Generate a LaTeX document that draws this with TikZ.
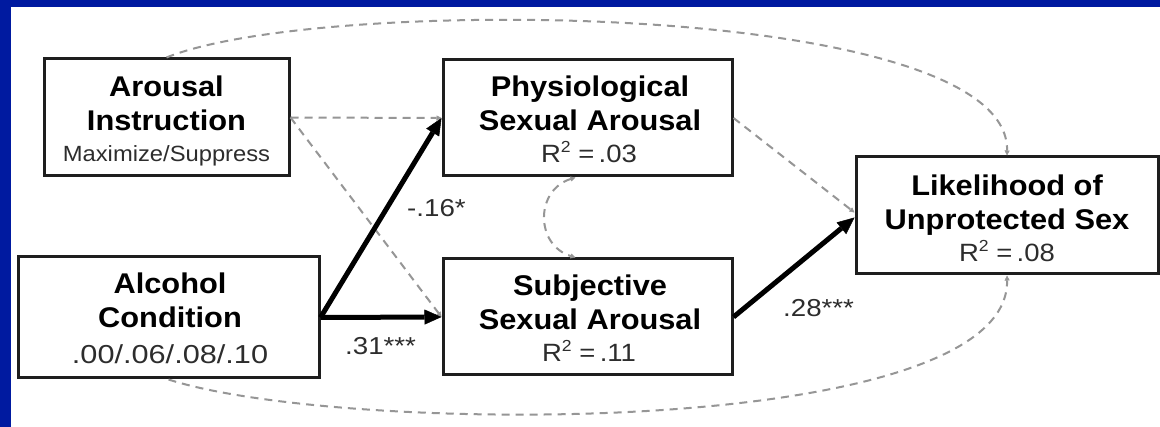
\documentclass[tikz,border=0pt]{standalone}
\usepackage{graphicx}
\usepackage{fontspec}
\setmainfont{Liberation Sans}
\usetikzlibrary{arrows.meta}
\definecolor{frameblue}{RGB}{0,26,160}
\definecolor{dashgrey}{RGB}{150,150,150}
\definecolor{boxline}{RGB}{30,30,30}
\definecolor{txtgrey}{RGB}{45,45,45}
\newcommand\myRsq{R\raisebox{0.42em}{\fontsize{16}{16}\selectfont 2}}
\newcommand\myHs[2]{\scalebox{#1}[1]{#2}}
\begin{document}
\begin{tikzpicture}[x=1pt,y=-1pt,
  box/.style={draw=boxline, line width=3pt, fill=white, inner sep=0pt},
  ttl/.style={anchor=base, font=\fontsize{28.5}{34}\selectfont\bfseries, text=black, inner sep=0pt},
  sub/.style={anchor=base, font=\fontsize{25}{30}\selectfont, text=txtgrey, inner sep=0pt},
  coef/.style={anchor=base west, font=\fontsize{24.5}{30}\selectfont, text=txtgrey, inner sep=0pt},
  dpath/.style={draw=dashgrey, line width=2pt, dash pattern=on 8pt off 6pt, -{Triangle[length=5pt,width=5pt,line width=0.5pt]}},
  spath/.style={draw=black, line width=5pt, -{Triangle[length=17pt,width=15pt,line width=0.5pt]}}
]
\useasboundingbox (0,0) rectangle (1160,427);
\fill[white] (0,0) rectangle (1160,427);
\fill[frameblue] (0,0) rectangle (1160,7.5);
\fill[frameblue] (0,0) rectangle (11,427);

% boxes
\node[box, minimum width=245pt, minimum height=117pt] (arousal) at (166.5,117.5) {};
\node[box, minimum width=301pt, minimum height=121pt] (alcohol) at (168.5,317.5) {};
\node[box, minimum width=289pt, minimum height=116pt] (physio) at (587.5,118) {};
\node[box, minimum width=289pt, minimum height=116pt] (subj) at (587.5,317) {};
\node[box, minimum width=302pt, minimum height=117pt] (lik) at (1007,215.5) {};

% connectors
\draw[dpath] (arousal.east) -- (physio.west);
\draw[dpath] (arousal.east) -- (subj.west);
\draw[dpath] (physio.east) -- ([yshift=3pt]lik.west);
\draw[dpath] (arousal.north) .. controls (320,-5) and (1010,0) .. (lik.north);
\draw[dpath] (alcohol.south) .. controls (340,435) and (1010,440) .. (lik.south);
\draw[dpath, {Triangle[length=5pt,width=5pt,line width=0.5pt]}-{Triangle[length=5pt,width=5pt,line width=0.5pt]}]
  ([xshift=-12pt]physio.south) .. controls (535,190) and (535,245) .. ([xshift=-12pt]subj.north);
\draw[spath] (alcohol.east) -- (physio.west);
\draw[spath] (alcohol.east) -- (subj.west);
\draw[spath] (subj.east) -- ([yshift=-2pt]lik.west);

% texts
\node[ttl] (arousalA) at (166.5,97) {\myHs{1.08}{Arousal}};
\node[ttl] (arousalB) at (166.5,131) {\myHs{1.08}{Instruction}};
\node[sub, font=\fontsize{22}{26}\selectfont] (arousalC) at (166.5,162) {\myHs{1.08}{Maximize/Suppress}};

\node[ttl] (alcoholA) at (170,294) {\myHs{1.08}{Alcohol}};
\node[ttl] (alcoholB) at (170,328) {\myHs{1.08}{Condition}};
\node[sub, font=\fontsize{26}{30}\selectfont] (alcoholC) at (170,364) {\myHs{1.18}{.00/.06/.08/.10}};

\node[ttl] (physioA) at (590,97) {\myHs{1.08}{Physiological}};
\node[ttl] (physioB) at (590,131) {\myHs{1.08}{Sexual Arousal}};
\node[sub] (physioC) at (589,163) {\myHs{1.1}{\myRsq\ =\hspace{4pt}.03}};

\node[ttl] (subjA) at (590,296) {\myHs{1.08}{Subjective}};
\node[ttl] (subjB) at (590,330) {\myHs{1.08}{Sexual Arousal}};
\node[sub] (subjC) at (589,362) {\myHs{1.1}{\myRsq\ =\hspace{4pt}.11}};

\node[ttl] (likA) at (1007,196) {\myHs{1.08}{Likelihood of}};
\node[ttl] (likB) at (1007,230) {\myHs{1.08}{Unprotected Sex}};
\node[sub] (likC) at (1007,262) {\myHs{1.1}{\myRsq\ =\hspace{4pt}.08}};

% coefficients
\node[coef] (c16) at (407,217) {\myHs{1.13}{-.16*}};
\node[coef] (c31) at (345,355) {\myHs{1.13}{.31***}};
\node[coef] (c28) at (783,317) {\myHs{1.13}{.28***}};
\end{tikzpicture}
\end{document}
